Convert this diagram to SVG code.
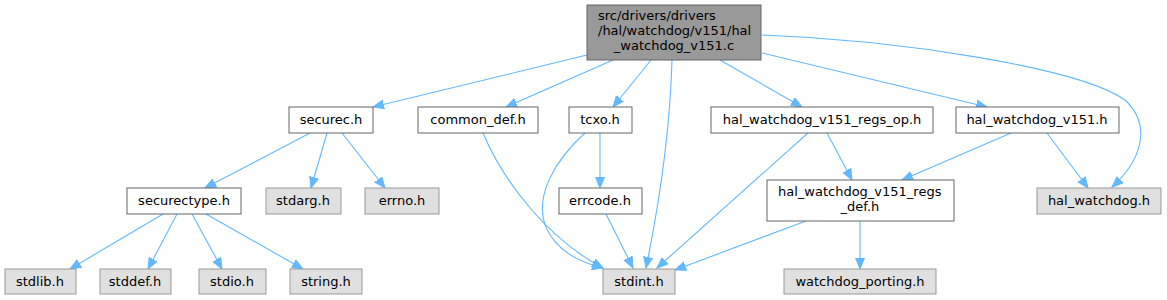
<svg xmlns="http://www.w3.org/2000/svg" width="1167" height="300" viewBox="0 0 1167 300">
<style>
text{font-family:"DejaVu Sans",sans-serif;font-size:13px;fill:#000}
.c{text-anchor:middle}
.root rect{fill:#999999;stroke:#666666}
.n rect{fill:#ffffff;stroke:#666666}
.s rect{fill:#e0e0e0;stroke:#999999}
#edges path{fill:none;stroke:#63b8ff;stroke-width:1.1}
</style>
<defs>
<marker id="a" markerUnits="userSpaceOnUse" markerWidth="14" markerHeight="12" refX="11" refY="5" orient="auto">
<path d="M0,0.5 L11,5 L0,9.5 z" fill="#63b8ff" stroke="#63b8ff"/>
</marker>
</defs>
<g id="edges">
<path d="M587,55 L373,107" marker-end="url(#a)"/>
<path d="M613,60 L506,107" marker-end="url(#a)"/>
<path d="M651,60 L613,107" marker-end="url(#a)"/>
<path d="M672,60 C670,130 660,200 646,268" marker-end="url(#a)"/>
<path d="M720,60 L802,107" marker-end="url(#a)"/>
<path d="M762,53 L987,107" marker-end="url(#a)"/>
<path d="M762,35 C900,40 1080,68 1125,100 C1152,125 1142,160 1112,187" marker-end="url(#a)"/>
<path d="M310,133 L205,188" marker-end="url(#a)"/>
<path d="M327,133 L311,188" marker-end="url(#a)"/>
<path d="M342,133 L385,188" marker-end="url(#a)"/>
<path d="M163,214 L70,269" marker-end="url(#a)"/>
<path d="M177,214 L148,269" marker-end="url(#a)"/>
<path d="M192,214 L222,269" marker-end="url(#a)"/>
<path d="M206,214 L303,269" marker-end="url(#a)"/>
<path d="M483,133 C505,185 550,240 603,268" marker-end="url(#a)"/>
<path d="M585,133 C555,160 535,195 545,225 C555,250 578,262 603,268" marker-end="url(#a)"/>
<path d="M600,133 L600,188" marker-end="url(#a)"/>
<path d="M606,214 L633,268" marker-end="url(#a)"/>
<path d="M808,133 L657,268" marker-end="url(#a)"/>
<path d="M827,133 L852,180" marker-end="url(#a)"/>
<path d="M1011,133 L902,180" marker-end="url(#a)"/>
<path d="M1047,133 L1088,188" marker-end="url(#a)"/>
<path d="M806,221 L675,270" marker-end="url(#a)"/>
<path d="M860,221 L860,269" marker-end="url(#a)"/>
</g>
<g id="root" class="root"><rect x="587" y="5" width="174" height="55"/><text x="598" y="20">src/drivers/drivers</text><text x="598" y="35">/hal/watchdog/v151/hal</text><text class="c" x="674" y="50">_watchdog_v151.c</text></g>
<g id="securec" class="n"><rect x="289" y="107" width="84" height="26"/><text class="c" x="331" y="124">securec.h</text></g>
<g id="common_def" class="n"><rect x="418" y="107" width="120" height="26"/><text class="c" x="478" y="124">common_def.h</text></g>
<g id="tcxo" class="n"><rect x="569" y="107" width="63" height="26"/><text class="c" x="600" y="124">tcxo.h</text></g>
<g id="regs_op" class="n"><rect x="711" y="107" width="222" height="26"/><text class="c" x="822" y="124">hal_watchdog_v151_regs_op.h</text></g>
<g id="hal_v151" class="n"><rect x="956" y="107" width="163" height="26"/><text class="c" x="1037" y="124">hal_watchdog_v151.h</text></g>
<g id="securectype" class="n"><rect x="127" y="188" width="114" height="26"/><text class="c" x="184" y="205">securectype.h</text></g>
<g id="stdarg" class="s"><rect x="266" y="188" width="75" height="26"/><text class="c" x="303" y="205">stdarg.h</text></g>
<g id="errno" class="s"><rect x="365" y="188" width="74" height="26"/><text class="c" x="402" y="205">errno.h</text></g>
<g id="errcode" class="n"><rect x="559" y="188" width="83" height="26"/><text class="c" x="600" y="205">errcode.h</text></g>
<g id="regs_def" class="n"><rect x="767" y="180" width="187" height="41"/><text x="778" y="196">hal_watchdog_v151_regs</text><text class="c" x="860" y="211">_def.h</text></g>
<g id="hal_watchdog" class="s"><rect x="1037" y="188" width="124" height="26"/><text class="c" x="1099" y="205">hal_watchdog.h</text></g>
<g id="stdlib" class="s"><rect x="5" y="269" width="71" height="25"/><text class="c" x="40" y="286">stdlib.h</text></g>
<g id="stddef" class="s"><rect x="100" y="269" width="71" height="25"/><text class="c" x="135" y="286">stddef.h</text></g>
<g id="stdio" class="s"><rect x="199" y="269" width="67" height="25"/><text class="c" x="232" y="286">stdio.h</text></g>
<g id="string" class="s"><rect x="290" y="269" width="72" height="25"/><text class="c" x="326" y="286">string.h</text></g>
<g id="stdint" class="s"><rect x="603" y="269" width="72" height="25"/><text class="c" x="639" y="286">stdint.h</text></g>
<g id="watchdog_porting" class="s"><rect x="784" y="269" width="152" height="25"/><text class="c" x="860" y="286">watchdog_porting.h</text></g>
</svg>
